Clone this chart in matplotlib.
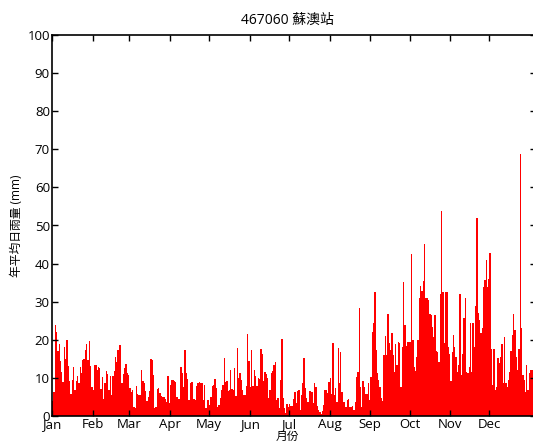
import matplotlib
matplotlib.use('Agg')
import matplotlib.pyplot as plt
import numpy as np

plt.rcParams['font.family'] = ['Open Sans', 'Noto Sans CJK TC', 'DejaVu Sans']

# 各日平均雨量 (mm)
jan_feb = [4, 6.4, 24, 22, 17, 19, 14.5, 11.6, 9, 18, 15, 20, 13, 9.3, 5.8,
           9.4, 12.8, 6.8, 9.2, 10.5, 8.7, 12.8, 11.4, 14.7, 14.9, 17.3, 19,
           14.7, 19.6, 13, 7.5, 6.8, 13.3, 13.3, 12, 12.8, 12.5, 7, 10.3, 4.5,
           8.6, 11.7, 11, 6.8, 10.5]
feb_apr = [5.5, 10.5, 11.9, 15.4, 14.3, 17.3, 18.6, 18.6, 8.6, 11, 12.5, 13.6,
           11.2, 10.8, 7.3, 6.4, 6.8, 2.3, 2, 7.9, 5.8, 5.6, 5.5, 12, 9.2, 8.7,
           6.6, 4, 5, 6.6, 14.9, 14.7, 10.8, 2, 2.3, 7, 7.3, 6, 5.2, 5, 5, 4.4,
           3.8, 10.5, 3.3, 8.1]
apr_may = [9.4, 9.4, 9.3, 9, 4.9, 4.4, 4.5, 12.9, 11.4, 7.7, 17.3, 11.4, 9.6,
           4.2, 8.6, 9, 9, 4.4, 4.2, 7.9, 8.6, 9, 8.7, 8.6, 4.2, 8.1, 2, 4.2,
           4.2, 2.9, 5, 7.9, 8.1, 9.6, 7.3, 2.4, 2.9, 4.6, 6.8, 8.1, 15.1, 9,
           9.2, 6.6, 6.8, 12.2]
may_jul = [7, 6.8, 12.5, 5.2, 17.8, 9.9, 11.4, 9.4, 6.8, 5.5, 5.5, 7.9, 21.5,
           14.5, 7.5, 17.3, 7.9, 12, 10.5, 7.9, 9.9, 9.6, 17.5, 16.4, 9.3, 11.6,
           11, 9.9, 4.6, 6.8, 11.4, 11.9, 13.4, 14.3, 4.2, 4.6, 2, 9.4, 20.1,
           4.6, 2, 0.9, 3.1, 2.4, 3.1, 2.6]
jul_aug = [2.6, 4.4, 6.4, 3.5, 6.6, 6.8, 1.6, 5.5, 8.7, 15.1, 7.3, 4.6, 3.8,
           6.6, 6.6, 6.4, 3.5, 8.7, 7.5, 2.6, 1.6, 1.1, 0.5, 1.4, 2.9, 6.8, 6.8,
           6, 9, 10.1, 5.8, 19.1, 5.5, 7.3, 3.8, 17.8, 8.7, 16.9, 6.4, 3.8, 3.8,
           2.4, 4.2, 4.4, 2.3, 2.3]
aug_oct = [2.6, 1.6, 3.8, 10.3, 11.6, 28.3, 7.5, 2.3, 9.3, 7.5, 5.9, 5.8, 8.6,
           4.2, 10.3, 22.1, 24.5, 32.6, 17.3, 11.2, 9.4, 7.7, 4.6, 4, 16, 21,
           16, 26.8, 19.1, 17.3, 21.9, 16, 11.6, 18.9, 13.4, 19.5, 19.2, 7.7,
           18, 35.3, 23.9, 18.4, 19.5, 19.5, 19.5, 42.5]
oct_nov = [19.9, 12.9, 11.9, 15.6, 19.9, 31.1, 34.1, 32.9, 35.5, 45.1, 31.1,
           30.9, 30.4, 26.9, 26.5, 23.4, 20.8, 26.5, 17.1, 16.9, 14.3, 32, 53.7,
           32.6, 19.1, 32.6, 32.6, 18.2, 16.4, 9.3, 16.9, 21.3, 18.2, 15.6,
           11.6, 13.4, 32, 10.8, 16.4, 25.6, 31.1, 11.6, 11.2, 12.9, 24.3]
nov_dec = [11.6, 24.5, 18.2, 28.9, 52, 27.1, 25.2, 21.7, 23, 33.9, 35.7, 40.9,
           33.8, 35.9, 42.7, 17.6, 8.1, 17.6, 6.8, 7.5, 15.1, 14.0, 15.6, 18.9,
           8.7, 20.8, 8.7, 7.7, 9.5, 11.6, 17.1, 21.3, 26.7, 22.6, 15.6, 12.1,
           17.5, 68.8, 23, 10.8, 9.4, 6.4, 13.3, 6.8, 11.2, 12.2, 12.2, 12]

rain = np.array(jan_feb + feb_apr + apr_may + may_jul + jul_aug + aug_oct
                + oct_nov + nov_dec)
days = np.arange(1, len(rain) + 1)

month_start = [1, 32, 60, 91, 121, 152, 182, 213, 244, 274, 305, 335]
month_labels = ['Jan', 'Feb', 'Mar', 'Apr', 'May', 'Jun',
                'Jul', 'Aug', 'Sep', 'Oct', 'Nov', 'Dec']

fig = plt.figure(figsize=(5.33, 4.44), dpi=100)
ax = fig.add_axes([52 / 533, 28 / 444, 484 / 533, 381 / 444])

ax.bar(days, rain, width=1.0, align='edge', color='#ff0000', linewidth=0)

ax.set_xlim(1, 370.5)
ax.set_ylim(0, 100)
ax.set_xticks(month_start)
ax.set_xticklabels(month_labels)
ax.set_yticks(np.arange(0, 101, 10))
ax.tick_params(direction='in', top=True, right=True, length=4, width=1,
               labelsize=9.5, pad=1.5)
for s in ax.spines.values():
    s.set_linewidth(1.2)

ax.set_title('467060 蘇澳站', fontsize=10, x=0.487, pad=8)
ax.set_xlabel('月份', fontsize=8.5, labelpad=-1, x=0.487)
ax.set_ylabel('年平均日雨量 (mm)', fontsize=8.5, labelpad=3)

fig.savefig('out.png', dpi=100)
